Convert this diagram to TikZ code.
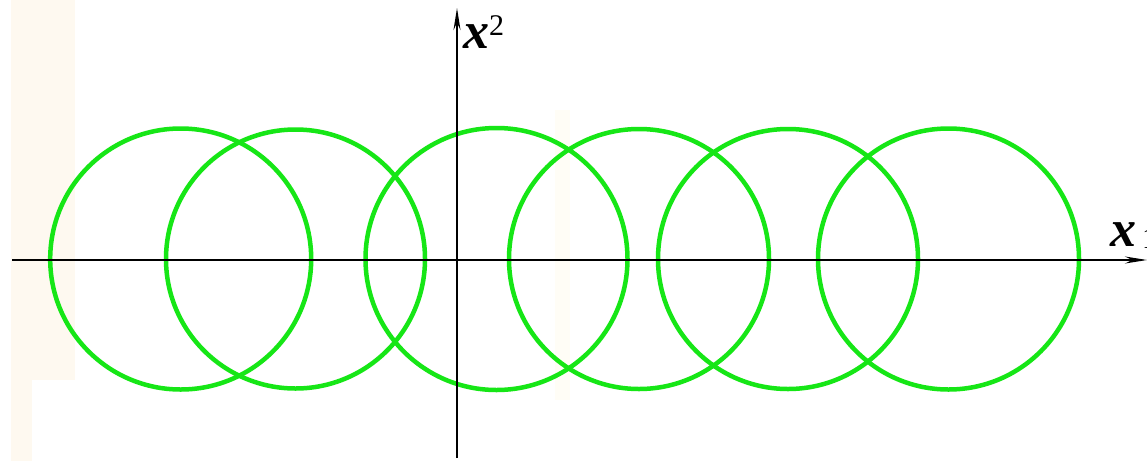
\documentclass[tikz,border=0pt]{standalone}
\usepackage{fontspec}
\setmainfont{Liberation Serif}
\usetikzlibrary{arrows.meta}
\definecolor{ringgreen}{RGB}{22,230,22}
\definecolor{stripbeige}{RGB}{254,249,240}
\definecolor{stripfaint}{RGB}{255,253,246}
\begin{document}
\begin{tikzpicture}[x=1pt,y=-1pt,
  ring/.style={draw=ringgreen,line width=4.5pt},
  axisline/.style={draw=black,line width=1.8pt,-{Stealth[length=22pt,width=7pt]}},
  lbl/.style={inner sep=0pt,anchor=base west},
  bigx/.style={font=\fontsize{52}{52}\selectfont\bfseries\itshape}]
\useasboundingbox (0,0) rectangle (1147,461);
\fill[white] (0,0) rectangle (1147,461);
\fill[stripbeige] (11,0) rectangle (75,380);
\fill[stripbeige] (11,380) rectangle (32,461);
\fill[stripfaint] (555,110) rectangle (570,400);
\foreach \cx/\r in {180.7/130.5, 295.5/129.5, 496.5/131, 639/130, 788/130, 948.5/130.5}
  \draw[ring] (\cx,259) circle[radius=\r pt];
\coordinate (xs) at (12,260);
\coordinate (xe) at (1147,260);
\coordinate (ys) at (457,458);
\coordinate (ye) at (457,8);
\draw[axisline] (xs) -- (xe);
\draw[axisline] (ys) -- (ye);
\node[lbl,bigx] (ylabel) at (463,48) {x\raisebox{13pt}{\fontsize{30}{30}\selectfont\mdseries\upshape 2}};
\node[lbl,bigx] (xlabel) at (1110,246) {x\hspace{6pt}\raisebox{-2pt}{\fontsize{30}{30}\selectfont\mdseries\upshape 1}};
\end{tikzpicture}
\end{document}
